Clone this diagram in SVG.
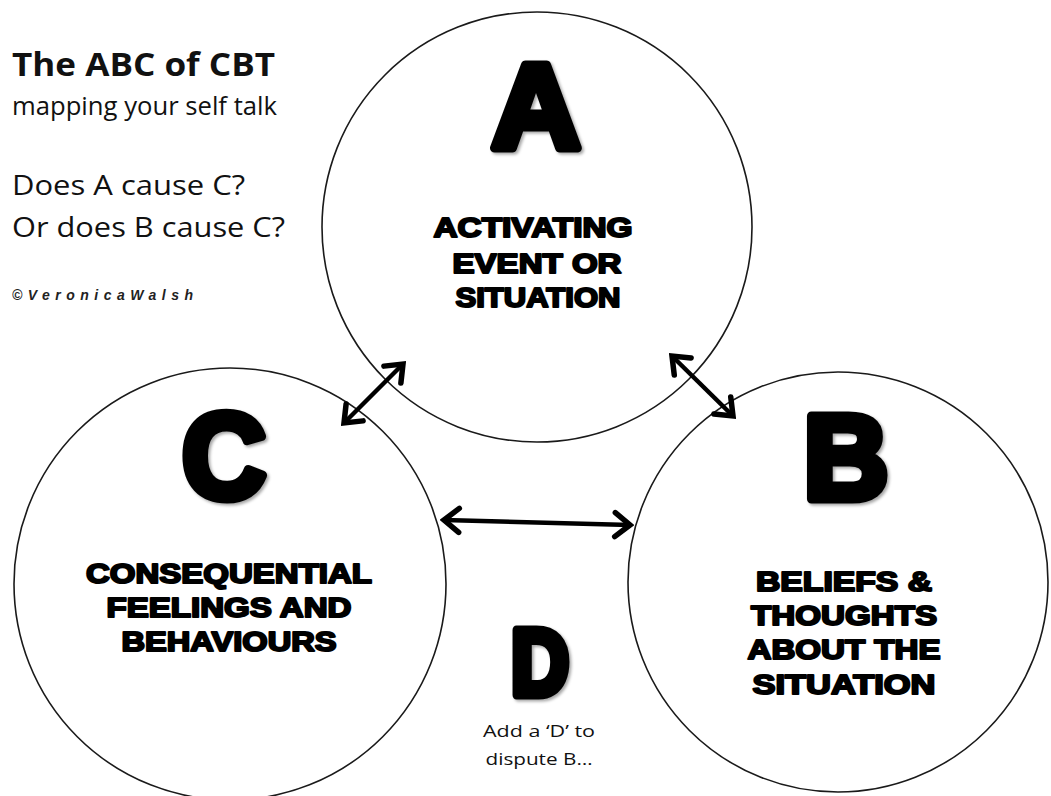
<svg xmlns="http://www.w3.org/2000/svg" width="1051" height="796" viewBox="0 0 1051 796">
  <defs>
    <style>
      .circle { fill: #ffffff; stroke: #1a1a1a; stroke-width: 1.6; }
      .big { font-family: "Liberation Sans", Arial, sans-serif; font-weight: bold; fill: #000; stroke: #000; stroke-width: 9; stroke-linejoin: round; text-anchor: middle; }
      .lbl { font-family: "Liberation Sans", Arial, sans-serif; font-weight: bold; font-size: 27px; fill: #000; stroke: #000; stroke-width: 2; stroke-linejoin: round; text-anchor: middle; }
      .side { font-family: "Open Sans", "Liberation Sans", sans-serif; fill: #111; }
      .conn { stroke: #000; stroke-width: 4.5; fill: none; marker-start: url(#head); marker-end: url(#head); }
    </style>
    <marker id="head" markerUnits="userSpaceOnUse" viewBox="-20 -16 24 32" refX="0" refY="0" markerWidth="24" markerHeight="32" orient="auto-start-reverse">
      <path d="M-15,-12 L0,0 L-15,12" fill="none" stroke="#000" stroke-width="5.5" stroke-linejoin="miter" stroke-linecap="round"/>
    </marker>
    <filter id="shadow" x="-10%" y="-10%" width="130%" height="130%">
      <feDropShadow dx="2" dy="2" stdDeviation="1.5" flood-color="#000" flood-opacity="0.35"/>
    </filter>
  </defs>
  <rect x="0" y="0" width="1051" height="796" fill="#ffffff"/>

  <g id="title">
    <text class="side" x="12" y="76" font-size="33" font-weight="bold" textLength="263" lengthAdjust="spacingAndGlyphs">The ABC of CBT</text>
    <text class="side" x="12" y="115" font-size="25" textLength="265" lengthAdjust="spacingAndGlyphs">mapping your self talk</text>
    <text class="side" x="12" y="195" font-size="28" textLength="233" lengthAdjust="spacingAndGlyphs">Does A cause C?</text>
    <text class="side" x="12" y="237" font-size="28" textLength="273" lengthAdjust="spacingAndGlyphs">Or does B cause C?</text>
    <text x="12" y="300" font-family="Liberation Sans, Arial, sans-serif" font-size="14" font-weight="bold" font-style="italic" fill="#222" textLength="181" lengthAdjust="spacing">©VeronicaWalsh</text>
  </g>

  <g id="node-A">
    <circle class="circle" cx="537" cy="227" r="215"/>
    <text class="big" x="536" y="148" font-size="120" textLength="89" lengthAdjust="spacingAndGlyphs" filter="url(#shadow)">A</text>
    <text class="lbl" x="533" y="237" textLength="199" lengthAdjust="spacingAndGlyphs">ACTIVATING</text>
    <text class="lbl" x="537" y="273" textLength="169" lengthAdjust="spacingAndGlyphs">EVENT OR</text>
    <text class="lbl" x="538" y="307" textLength="165" lengthAdjust="spacingAndGlyphs">SITUATION</text>
  </g>

  <g id="node-C">
    <circle class="circle" cx="230" cy="584" r="216"/>
    <text class="big" x="224" y="498" font-size="120" textLength="84" lengthAdjust="spacingAndGlyphs" filter="url(#shadow)">C</text>
    <text class="lbl" x="229" y="583" textLength="286" lengthAdjust="spacingAndGlyphs">CONSEQUENTIAL</text>
    <text class="lbl" x="229" y="617" textLength="245" lengthAdjust="spacingAndGlyphs">FEELINGS AND</text>
    <text class="lbl" x="229" y="651" textLength="215" lengthAdjust="spacingAndGlyphs">BEHAVIOURS</text>
  </g>

  <g id="node-B">
    <circle class="circle" cx="838" cy="582" r="210"/>
    <text class="big" x="846" y="499" font-size="120" textLength="85" lengthAdjust="spacingAndGlyphs" filter="url(#shadow)">B</text>
    <text class="lbl" x="844" y="591" textLength="176" lengthAdjust="spacingAndGlyphs">BELIEFS &amp;</text>
    <text class="lbl" x="844" y="625" textLength="186" lengthAdjust="spacingAndGlyphs">THOUGHTS</text>
    <text class="lbl" x="844" y="659" textLength="193" lengthAdjust="spacingAndGlyphs">ABOUT THE</text>
    <text class="lbl" x="844" y="694" textLength="183" lengthAdjust="spacingAndGlyphs">SITUATION</text>
  </g>

  <g id="node-D">
    <text class="big" x="540" y="695" font-size="94" stroke-width="7" textLength="58" lengthAdjust="spacingAndGlyphs" filter="url(#shadow)">D</text>
    <text class="side" x="539" y="737" font-size="17" text-anchor="middle" textLength="112" lengthAdjust="spacingAndGlyphs">Add a ‘D’ to</text>
    <text class="side" x="539" y="765" font-size="17" text-anchor="middle" textLength="107" lengthAdjust="spacingAndGlyphs">dispute B…</text>
  </g>

  <g id="connectors">
    <line class="conn" x1="344" y1="423" x2="403" y2="364"/>
    <line class="conn" x1="672" y1="356" x2="733" y2="416"/>
    <line class="conn" x1="444" y1="520" x2="630" y2="525"/>
  </g>
</svg>
